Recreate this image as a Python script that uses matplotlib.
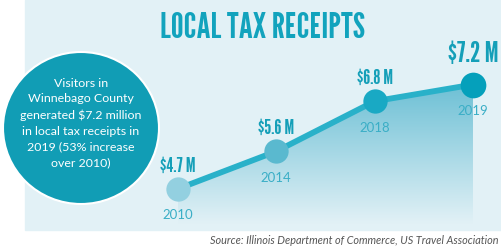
import numpy as np
import matplotlib.pyplot as plt
from matplotlib.patches import Rectangle, Ellipse
from matplotlib.colors import LinearSegmentedColormap

years = ["2010", "2014", "2018", "2019"]
receipts = [4.7, 5.6, 6.8, 7.2]
value_labels = ["$4.7 M", "$5.6 M", "$6.8 M", "$7.2 M"]
marker_colors = ["#93d0e0", "#5ab9cf", "#19a9c4", "#05a0bb"]

title = "LOCAL TAX RECEIPTS"
callout = ("Visitors in\nWinnebago County\ngenerated $7.2 million\n"
           "in local tax receipts in\n2019 (53% increase\nover 2010)")
source = "Source: Illinois Department of Commerce, US Travel Association"

W, H = 501, 247
fig = plt.figure(figsize=(W / 100, H / 100), dpi=100)
fig.patch.set_facecolor("white")

narrow = ["League Gothic", "Bebas Neue", "Oswald", "DejaVu Sans"]
body = ["Lato", "DejaVu Sans"]

# light blue panel and callout circle (pixel layout, figure fractions)
fig.patches.append(Rectangle((25 / W, 17 / H), 1 - 25 / W, 1 - 17 / H,
                             transform=fig.transFigure, color="#e2f1f6", zorder=-2))
fig.patches.append(Ellipse((81 / W, 1 - 128 / H), 156 / W, 152 / H,
                           transform=fig.transFigure, facecolor="#119db5",
                           edgecolor="white", lw=1.5, zorder=-1))
fig.text(81 / W, 1 - 123 / H, callout, ha="center", va="center", color="white",
         fontsize=8.9, family=body, linespacing=1.53, zorder=3)

fig.text(263 / W, 1 - 28.5 / H, title, ha="center", va="center", color="#12a3bd",
         fontsize=26, family=narrow)

fig.text(499 / W, 1 - 240 / H, source, ha="right", va="center", color="#555555",
         fontsize=7.8, style="italic", family=body)

ax = fig.add_axes([0, 0, 1, 1])
ax.patch.set_alpha(0)
ax.set_xlim(-1.810, 3.285)
ax.set_ylim(3.305, 9.228)
ax.axis("off")

x = np.arange(len(years))
base = 3.85

# gradient area under the line
poly = ax.fill_between(x, receipts, base, color="none", lw=0)
cmap = LinearSegmentedColormap.from_list("fade", ["#e2f1f6", "#6dc0d5"])
grad = np.linspace(0, 1, 256).reshape(-1, 1)
img = ax.imshow(grad, cmap=cmap, aspect="auto", origin="lower",
                extent=[x[0], x[-1], base, max(receipts)], zorder=1)
img.set_clip_path(poly.get_paths()[0], transform=ax.transData)

ax.plot(x, receipts, color="#29b1c9", lw=4.2, zorder=2, solid_capstyle="round")
for i in range(len(years)):
    ax.plot(x[i], receipts[i], "o", ms=17.5 if i < 3 else 18.5,
            color=marker_colors[i], mec="none", zorder=3)
    ax.annotate(years[i], (x[i], receipts[i]), xytext=(0, -19), textcoords="offset points",
                ha="center", va="center", color="#3aaec6", fontsize=9.5,
                family=body)
    big = i == 3
    ax.annotate(value_labels[i], (x[i], receipts[i]), xytext=(0, 22 if big else 16.5),
                textcoords="offset points", ha="center", va="center",
                color="#159fb8", fontsize=20.5 if big else 14.6, family=narrow)

fig.savefig("out.png", dpi=100)
